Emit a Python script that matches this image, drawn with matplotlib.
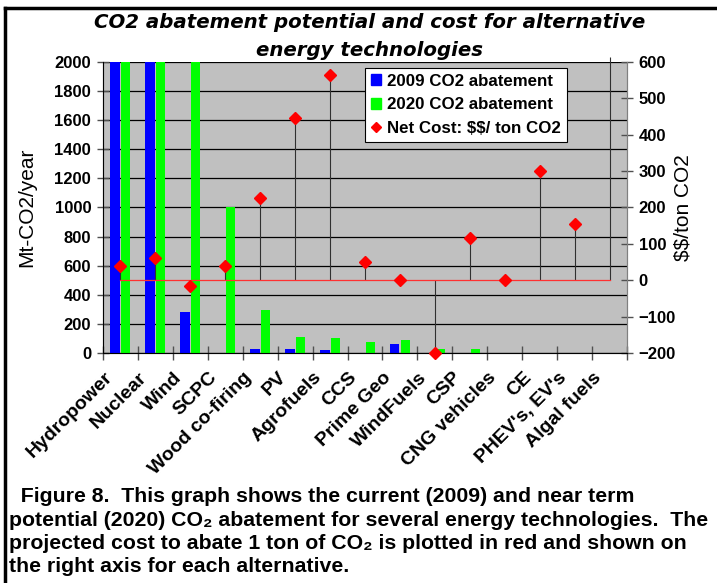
import numpy as np
import matplotlib
matplotlib.use('Agg')
from matplotlib import pyplot as plt
from matplotlib import transforms
from matplotlib.lines import Line2D
from matplotlib.patches import Patch

plt.rcParams['font.family'] = ['Liberation Sans', 'DejaVu Sans']
plt.rcParams['font.weight'] = 'bold'

# Data
# --------------------------------------------------------------------------
technologies = ['Hydropower', 'Nuclear', 'Wind', 'SCPC', 'Wood co-firing', 'PV',
                'Agrofuels', 'CCS', 'Prime Geo', 'WindFuels', 'CSP',
                'CNG vehicles', 'CE', "PHEV's, EV's", 'Algal fuels']
# Mt-CO2/year (Hydropower, Nuclear and Wind 2020 run off the top of the axis)
abatement_2009 = [2000, 2000, 280, 0, 25, 25, 20, 0, 65, 0, 0, 0, 0, 0, 0]
abatement_2020 = [2000, 2000, 2000, 1000, 295, 110, 100, 75, 90, 30, 25, 3, 3, 0, 0]
# $$/ton CO2
net_cost = [40, 60, -15, 40, 225, 445, 565, 50, 0, -200, 115, 0, 300, 155, 615]
left_ticks = np.arange(0, 2001, 200)
right_ticks = np.arange(-200, 601, 100)
# --------------------------------------------------------------------------

fig = plt.figure(figsize=(7.17, 5.83), dpi=100)
ax = fig.add_axes([0.1437, 0.3945, 0.7308, 0.4992])
ax.set_facecolor('#c0c0c0')

x = np.arange(len(technologies)) + 0.5
ax.bar(x - 0.155, abatement_2009, width=0.28, color='#0000ff', zorder=3)
ax.bar(x + 0.15, abatement_2020, width=0.26, color='#00ff00', zorder=3)

ax.set_xlim(0, len(technologies))
ax.set_ylim(0, 2000)
ax.set_yticks(left_ticks)
ax.grid(axis='y', color='black', linewidth=0.9, zorder=1)
ax.set_axisbelow(True)

# tick marks on category boundaries, category names drawn below the centres
ax.set_xticks(np.arange(len(technologies) + 1))
ax.set_xticklabels([])
ax.tick_params(axis='x', direction='inout', length=10, color='#505050', width=1)
label_trans = (transforms.blended_transform_factory(ax.transData, ax.transAxes)
               + transforms.ScaledTranslation(-17 / 100, -16 / 100, fig.dpi_scale_trans))
for xi, name in zip(x, technologies):
    ax.text(xi, 0, name, transform=label_trans, rotation=45, ha='right', va='top',
            rotation_mode='anchor', fontsize=14, fontweight='bold', clip_on=False)

ax.tick_params(axis='y', direction='inout', length=9, color='#505050',
               width=1, labelsize=12, pad=4)
for lab in ax.get_yticklabels():
    lab.set_fontweight('bold')
ax.spines['top'].set_visible(False)
for side in ['left', 'right', 'bottom']:
    ax.spines[side].set_color('#808080')

# Net cost on the right axis
ax2 = ax.twinx()
ax2.set_ylim(-200, 600)
ax2.set_yticks(right_ticks)
ax2.tick_params(axis='y', direction='inout', length=9, color='#505050',
                width=1, labelsize=12, pad=4)
for lab in ax2.get_yticklabels():
    lab.set_fontweight('bold')
ax2.spines['top'].set_visible(False)
ax2.spines['right'].set_color('#808080')

ax2.vlines(x, 0, net_cost, color='#303030', linewidth=0.8, zorder=4, clip_on=False)
ax2.plot(x, np.zeros(len(x)), color='#ff3030', linewidth=0.9, zorder=5)
cost = np.array(net_cost)
shown = (cost >= -200) & (cost <= 600)
ax2.plot(x[shown], cost[shown], 'D', color='#ff0000', markersize=6.5,
         linestyle='none', zorder=6, clip_on=False)

# axis titles
fig.text(27 / 717, 0.644, 'Mt-CO2/year', rotation=90, ha='center', va='center',
         fontsize=15, fontweight='normal')
fig.text(683 / 717, 0.644, r'\$\$/ton CO2', rotation=90, ha='center', va='center',
         fontsize=15, fontweight='normal')

handles = [Patch(color='#0000ff'), Patch(color='#00ff00'),
           Line2D([], [], marker='D', color='#ff0000', linestyle='none', markersize=5)]
labels = ['2009 CO2 abatement', '2020 CO2 abatement', r'Net Cost: \$\$/ ton CO2']
leg = ax2.legend(handles, labels, loc='upper left', bbox_to_anchor=(0.5, 0.98),
                 fontsize=12.2, frameon=True, fancybox=False, framealpha=1,
                 edgecolor='black', borderpad=0.35, labelspacing=0.5,
                 handlelength=0.6, handleheight=0.6, handletextpad=0.35,
                 borderaxespad=0)
leg.get_frame().set_linewidth(0.8)
for t in leg.get_texts():
    t.set_fontweight('bold')

# title
fig.text(0.516, 1 - 22 / 583, 'CO2 abatement potential and cost for alternative',
         ha='center', va='center', fontsize=14.2, fontweight='bold',
         style='italic', family='DejaVu Sans')
fig.text(0.516, 1 - 51 / 583, 'energy technologies',
         ha='center', va='center', fontsize=14.2, fontweight='bold',
         style='italic', family='DejaVu Sans')

# caption
caption = ['  Figure 8.  This graph shows the current (2009) and near term',
           'potential (2020) CO\u2082 abatement for several energy technologies.  The',
           'projected cost to abate 1 ton of CO\u2082 is plotted in red and shown on',
           'the right axis for each alternative.']
for i, line in enumerate(caption):
    fig.text(0.013, 1 - (502 + i * 23.5) / 583, line, ha='left', va='baseline',
             fontsize=15.3, fontweight='bold')

# frame lines along top and left edge
fig.add_artist(Line2D([0.007, 1.0], [0.986, 0.986], color='black', linewidth=2.5))
fig.add_artist(Line2D([0.007, 0.007], [0.0, 0.986], color='black', linewidth=2.5))

fig.savefig('out.png', dpi=100)
